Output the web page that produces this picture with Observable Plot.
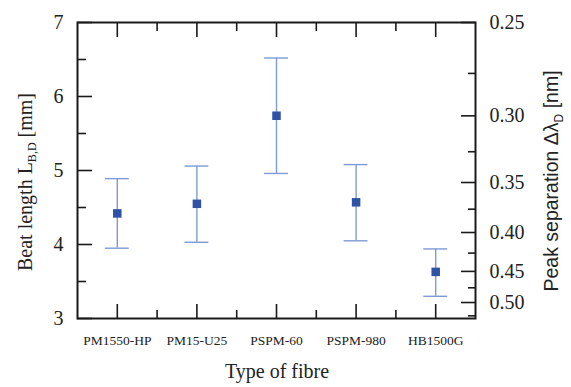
<!DOCTYPE html>
<html>
<head>
<meta charset="utf-8">
<script src="https://cdn.jsdelivr.net/npm/d3@7"></script>
<script src="https://cdn.jsdelivr.net/npm/@observablehq/plot@0.6"></script>
<style>
  html, body { margin: 0; padding: 0; background: #fff; }
  #chart svg { display: block; }
  #chart svg text { font-family: "Liberation Serif", "Times New Roman", serif; }
</style>
</head>
<body>
<div id="chart"></div>
<script>
// ---- data ----
const categories = ["PM1550-HP", "PM15-U25", "PSPM-60", "PSPM-980", "HB1500G"];
const beatLength = [4.42, 4.55, 5.74, 4.57, 3.63];
const errLow     = [3.95, 4.03, 4.96, 4.05, 3.30];
const errHigh    = [4.89, 5.06, 6.52, 5.08, 3.94];

const leftTicks = [3, 4, 5, 6, 7];
const leftMinor = [3.5, 4.5, 5.5, 6.5];
const sepTicks  = [0.25, 0.30, 0.35, 0.40, 0.45, 0.50];
const sepMinor  = [0.275, 0.325, 0.375, 0.425, 0.475, 0.525];

// relation between peak separation (nm) and beat length (mm)
const K = 1.892, B0 = 0.568;
const toBeat = s => K / s - B0;
const toSep = L => K / (L + B0);

const data = categories.map((c, i) => ({i, c, y: beatLength[i], lo: errLow[i], hi: errHigh[i]}));
const idx = categories.map((_, i) => i);
const mids = idx.slice(1).map(i => i - 0.5);

const errColor = "#7d9bd5";
const markColor = "#2e52a6";
const axisColor = "#1a1a1a";
const cap = 0.15;
const serif = "'Liberation Serif', 'Times New Roman', serif";
const sans = "'Liberation Sans', Arial, sans-serif";

const chart = Plot.plot({
  width: 571, height: 387,
  marginLeft: 77, marginRight: 96, marginTop: 22, marginBottom: 69,
  style: {fontFamily: serif, background: "#fff", color: axisColor},
  x: {domain: [-0.5, 4.5]},
  y: {domain: [3, 7]},
  marks: [
    Plot.ruleX(data, {x: "i", y1: "lo", y2: "hi", stroke: errColor, strokeWidth: 1.4}),
    Plot.ruleY(data, {y: "lo", x1: d => d.i - cap, x2: d => d.i + cap, stroke: errColor, strokeWidth: 1.4}),
    Plot.ruleY(data, {y: "hi", x1: d => d.i - cap, x2: d => d.i + cap, stroke: errColor, strokeWidth: 1.4}),
    Plot.dot(data, {x: "i", y: "y", symbol: "square", r: 4.8, fill: markColor, stroke: null}),

    // left axis
    Plot.axisY(leftTicks, {anchor: "left", tickSize: -15, fill: "none", label: null, strokeWidth: 1.6}),
    Plot.axisY(leftMinor, {anchor: "left", tickSize: -9, fill: "none", label: null, strokeWidth: 1.6}),
    Plot.axisY(leftTicks, {anchor: "left", tickSize: 0, tickPadding: 14, fontSize: 20, label: null,
      tickFormat: d => String(d), fill: "#222"}),

    // right axis (peak separation)
    Plot.axisY(sepTicks.map(toBeat), {anchor: "right", tickSize: -15, fill: "none", label: null, strokeWidth: 1.6}),
    Plot.axisY(sepMinor.map(toBeat), {anchor: "right", tickSize: -8, fill: "none", label: null, strokeWidth: 1.6}),
    Plot.axisY(sepTicks.map(toBeat), {anchor: "right", tickSize: 0, tickPadding: 14, fontSize: 20, label: null,
      tickFormat: d => toSep(d).toFixed(2), fill: "#222"}),

    // top axis
    Plot.axisX(idx, {anchor: "top", tickSize: -14, fill: "none", label: null, strokeWidth: 1.6}),
    Plot.axisX(mids, {anchor: "top", tickSize: -8, fill: "none", label: null, strokeWidth: 1.6}),
    // bottom axis
    Plot.axisX(idx, {anchor: "bottom", tickSize: -14, fill: "none", label: null, strokeWidth: 1.6}),
    Plot.axisX(mids, {anchor: "bottom", tickSize: -8, fill: "none", label: null, strokeWidth: 1.6}),
    Plot.axisX(idx, {anchor: "bottom", tickSize: 0, tickPadding: 17, fontSize: 13.5, label: null,
      tickFormat: i => categories[i], fill: "#222"}),

    Plot.frame({stroke: axisColor, strokeWidth: 2})
  ]
});

document.getElementById("chart").appendChild(chart);

// axis titles (with subscripts)
const svg = d3.select(chart);

const lt = svg.append("text")
  .attr("transform", "translate(32,182) rotate(-90)")
  .attr("text-anchor", "middle")
  .style("font-family", serif).attr("font-size", 20).attr("fill", "#222");
lt.append("tspan").text("Beat length L");
lt.append("tspan").attr("font-size", 12).attr("dy", 4).text("B,D");
lt.append("tspan").attr("dy", -4).text(" [mm]");

const rt = svg.append("text")
  .attr("transform", "translate(558,181) rotate(-90)")
  .attr("text-anchor", "middle")
  .style("font-family", sans).attr("font-size", 19.5).attr("fill", "#222");
rt.append("tspan").text("Peak separation Δλ");
rt.append("tspan").attr("font-size", 12).attr("dy", 5).text("D");
rt.append("tspan").attr("dy", -5).text(" [nm]");

svg.append("text")
  .attr("x", 277).attr("y", 378)
  .attr("text-anchor", "middle")
  .style("font-family", serif).attr("font-size", 20).attr("fill", "#222")
  .text("Type of fibre");
</script>
</body>
</html>
